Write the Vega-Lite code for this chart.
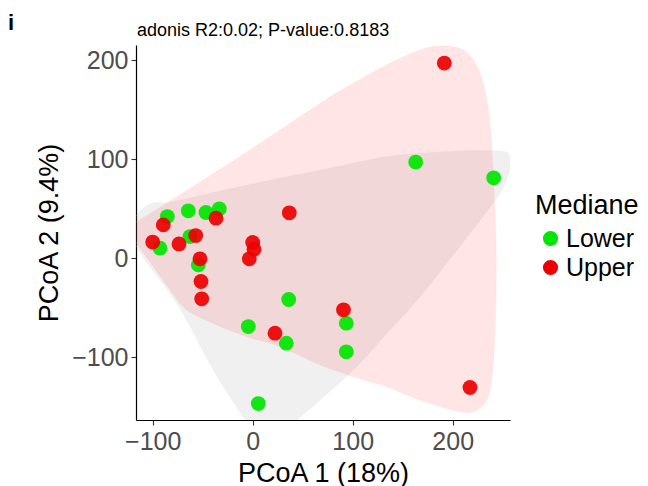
{
  "$schema": "https://vega.github.io/schema/vega-lite/v6.json",
  "autosize": {"type": "none"},
  "width": 374,
  "height": 375,
  "padding": {"left": 136, "top": 45, "right": 138, "bottom": 66},
  "background": "white",
  "config": {
    "view": {"stroke": null},
    "font": "Liberation Sans",
    "axis": {"grid": false, "domainColor": "black", "domainWidth": 1.2, "tickColor": "#333333", "tickSize": 5, "tickWidth": 1.1, "labelColor": "#4D4D4D", "labelFont": "Liberation Sans", "labelFontSize": 25, "titleFont": "Liberation Sans", "titleFontSize": 27, "titleFontWeight": "normal", "titleColor": "black"}
  },
  "datasets": {
    "points": [
      {"PC1": -85.4, "PC2": 42.2, "Mediane": "Lower"},
      {"PC1": -64.4, "PC2": 48.0, "Mediane": "Lower"},
      {"PC1": -46.7, "PC2": 46.3, "Mediane": "Lower"},
      {"PC1": -33.4, "PC2": 50.0, "Mediane": "Lower"},
      {"PC1": -92.7, "PC2": 10.3, "Mediane": "Lower"},
      {"PC1": -62.7, "PC2": 22.0, "Mediane": "Lower"},
      {"PC1": -54.4, "PC2": -6.6, "Mediane": "Lower"},
      {"PC1": 36.0, "PC2": -41.6, "Mediane": "Lower"},
      {"PC1": -4.4, "PC2": -68.9, "Mediane": "Lower"},
      {"PC1": 33.6, "PC2": -85.7, "Mediane": "Lower"},
      {"PC1": 93.6, "PC2": -65.5, "Mediane": "Lower"},
      {"PC1": 93.6, "PC2": -94.4, "Mediane": "Lower"},
      {"PC1": 5.6, "PC2": -146.7, "Mediane": "Lower"},
      {"PC1": 163.0, "PC2": 97.2, "Mediane": "Lower"},
      {"PC1": 241.0, "PC2": 81.3, "Mediane": "Lower"},
      {"PC1": -89.4, "PC2": 33.8, "Mediane": "Upper"},
      {"PC1": -36.7, "PC2": 40.6, "Mediane": "Upper"},
      {"PC1": 36.6, "PC2": 46.0, "Mediane": "Upper"},
      {"PC1": -100.0, "PC2": 16.4, "Mediane": "Upper"},
      {"PC1": -73.7, "PC2": 14.6, "Mediane": "Upper"},
      {"PC1": -57.0, "PC2": 23.0, "Mediane": "Upper"},
      {"PC1": -52.7, "PC2": -0.5, "Mediane": "Upper"},
      {"PC1": -51.7, "PC2": -23.4, "Mediane": "Upper"},
      {"PC1": -51.0, "PC2": -40.9, "Mediane": "Upper"},
      {"PC1": 0.0, "PC2": 16.0, "Mediane": "Upper"},
      {"PC1": 1.3, "PC2": 9.3, "Mediane": "Upper"},
      {"PC1": -3.4, "PC2": -0.5, "Mediane": "Upper"},
      {"PC1": 22.3, "PC2": -75.6, "Mediane": "Upper"},
      {"PC1": 90.8, "PC2": -52.0, "Mediane": "Upper"},
      {"PC1": 191.6, "PC2": 197.2, "Mediane": "Upper"},
      {"PC1": 217.3, "PC2": -130.5, "Mediane": "Upper"}
    ],
    "hullLower": [
      {"i": 1, "PC1": -122.7, "PC2": 30.6},
      {"i": 2, "PC1": -116.0, "PC2": 43.7},
      {"i": 3, "PC1": -107.7, "PC2": 51.8},
      {"i": 4, "PC1": -97.7, "PC2": 56.4},
      {"i": 5, "PC1": -79.7, "PC2": 57.2},
      {"i": 6, "PC1": -2.7, "PC2": 74.5},
      {"i": 7, "PC1": 77.3, "PC2": 90.9},
      {"i": 8, "PC1": 134.0, "PC2": 102.6},
      {"i": 9, "PC1": 194.0, "PC2": 107.7},
      {"i": 10, "PC1": 247.3, "PC2": 108.4},
      {"i": 11, "PC1": 257.3, "PC2": 102.6},
      {"i": 12, "PC1": 259.3, "PC2": 94.2},
      {"i": 13, "PC1": 255.3, "PC2": 84.1},
      {"i": 14, "PC1": 247.3, "PC2": 65.7},
      {"i": 15, "PC1": 217.3, "PC2": 25.3},
      {"i": 16, "PC1": 167.3, "PC2": -38.8},
      {"i": 17, "PC1": 134.0, "PC2": -75.8},
      {"i": 18, "PC1": 100.6, "PC2": -112.8},
      {"i": 19, "PC1": 67.3, "PC2": -143.1},
      {"i": 20, "PC1": 44.0, "PC2": -163.3},
      {"i": 21, "PC1": 27.3, "PC2": -175.5},
      {"i": 22, "PC1": 9.3, "PC2": -179.5},
      {"i": 23, "PC1": -9.4, "PC2": -160.0},
      {"i": 24, "PC1": -39.4, "PC2": -112.8},
      {"i": 25, "PC1": -66.0, "PC2": -62.3},
      {"i": 26, "PC1": -82.7, "PC2": -35.4},
      {"i": 27, "PC1": -102.7, "PC2": -8.5},
      {"i": 28, "PC1": -116.0, "PC2": 11.7}
    ],
    "hullUpper": [
      {"i": 1, "PC1": -125.7, "PC2": 32.6},
      {"i": 2, "PC1": -116.0, "PC2": 37.0},
      {"i": 3, "PC1": -22.7, "PC2": 96.3},
      {"i": 4, "PC1": 67.3, "PC2": 156.5},
      {"i": 5, "PC1": 100.6, "PC2": 176.8},
      {"i": 6, "PC1": 134.0, "PC2": 195.3},
      {"i": 7, "PC1": 167.3, "PC2": 210.4},
      {"i": 8, "PC1": 187.3, "PC2": 214.4},
      {"i": 9, "PC1": 207.3, "PC2": 212.1},
      {"i": 10, "PC1": 220.6, "PC2": 200.3},
      {"i": 11, "PC1": 230.6, "PC2": 176.8},
      {"i": 12, "PC1": 237.3, "PC2": 136.4},
      {"i": 13, "PC1": 240.6, "PC2": 85.9},
      {"i": 14, "PC1": 243.3, "PC2": 18.5},
      {"i": 15, "PC1": 243.3, "PC2": -38.8},
      {"i": 16, "PC1": 240.6, "PC2": -106.1},
      {"i": 17, "PC1": 235.6, "PC2": -139.8},
      {"i": 18, "PC1": 224.0, "PC2": -153.2},
      {"i": 19, "PC1": 207.3, "PC2": -155.0},
      {"i": 20, "PC1": 167.3, "PC2": -143.1},
      {"i": 21, "PC1": 134.0, "PC2": -129.7},
      {"i": 22, "PC1": 100.6, "PC2": -119.6},
      {"i": 23, "PC1": 67.3, "PC2": -107.8},
      {"i": 24, "PC1": 27.3, "PC2": -89.3},
      {"i": 25, "PC1": -6.0, "PC2": -79.2},
      {"i": 26, "PC1": -39.4, "PC2": -65.7},
      {"i": 27, "PC1": -66.0, "PC2": -52.2},
      {"i": 28, "PC1": -82.7, "PC2": -32.0},
      {"i": 29, "PC1": -99.4, "PC2": -8.5},
      {"i": 30, "PC1": -116.0, "PC2": 15.2}
    ],
    "labels": [
      {"label": "i", "kind": "tag"},
      {"label": "adonis R2:0.02; P-value:0.8183", "kind": "title"}
    ]
  },
  "layer": [
    {
      "data": {"name": "hullLower"},
      "mark": {"type": "line", "interpolate": "cardinal-closed", "fill": "#808080", "fillOpacity": 0.12, "stroke": "#d8e8d8", "strokeOpacity": 0.25, "strokeWidth": 0.8, "clip": true},
      "encoding": {
        "x": {"field": "PC1", "type": "quantitative", "scale": {"domain": [-116.7, 257.3], "nice": false, "zero": false}},
        "y": {"field": "PC2", "type": "quantitative", "scale": {"domain": [-163.3, 215.5], "nice": false, "zero": false}},
        "order": {"field": "i", "type": "quantitative"}
      }
    },
    {
      "data": {"name": "hullUpper"},
      "mark": {"type": "line", "interpolate": "cardinal-closed", "fill": "#ff0000", "fillOpacity": 0.1, "stroke": "#ffcccc", "strokeOpacity": 0.25, "strokeWidth": 0.8, "clip": true},
      "encoding": {
        "x": {"field": "PC1", "type": "quantitative"},
        "y": {"field": "PC2", "type": "quantitative"},
        "order": {"field": "i", "type": "quantitative"}
      }
    },
    {
      "data": {"name": "points"},
      "mark": {"type": "circle", "size": 220, "opacity": 0.92},
      "encoding": {
        "x": {"field": "PC1", "type": "quantitative", "axis": {"title": "PCoA 1 (18%)", "values": [-100, 0, 100, 200], "labelPadding": 4, "titlePadding": 6}},
        "y": {"field": "PC2", "type": "quantitative", "axis": {"title": "PCoA 2 (9.4%)", "values": [-100, 0, 100, 200], "labelPadding": 3, "titlePadding": 8}},
        "color": {
          "field": "Mediane", "type": "nominal",
          "scale": {"domain": ["Lower", "Upper"], "range": ["#00E600", "#EE0000"]},
          "legend": {"title": "Mediane", "orient": "none", "legendX": 399, "legendY": 148, "symbolType": "circle", "symbolSize": 230, "symbolOpacity": 1, "symbolOffset": 3, "labelFontSize": 25, "titleFontSize": 27, "titleFontWeight": "normal", "titleColor": "black", "labelColor": "black", "labelFont": "Liberation Sans", "titleFont": "Liberation Sans", "labelOffset": 3, "rowPadding": 3, "titlePadding": 6, "padding": 0}
        }
      }
    },
    {
      "data": {"name": "labels"},
      "transform": [{"filter": "datum.kind === 'tag'"}],
      "mark": {"type": "text", "align": "left", "baseline": "alphabetic", "fontSize": 22, "fontWeight": "bold", "font": "Liberation Sans", "color": "black", "clip": false},
      "encoding": {
        "x": {"datum": -244.7, "type": "quantitative"},
        "y": {"datum": 230.6, "type": "quantitative"},
        "text": {"field": "label"}
      }
    },
    {
      "data": {"name": "labels"},
      "transform": [{"filter": "datum.kind === 'title'"}],
      "mark": {"type": "text", "align": "left", "baseline": "alphabetic", "fontSize": 18, "font": "Liberation Sans", "color": "black", "clip": false},
      "encoding": {
        "x": {"datum": -115.7, "type": "quantitative"},
        "y": {"datum": 224.5, "type": "quantitative"},
        "text": {"field": "label"}
      }
    }
  ]
}
